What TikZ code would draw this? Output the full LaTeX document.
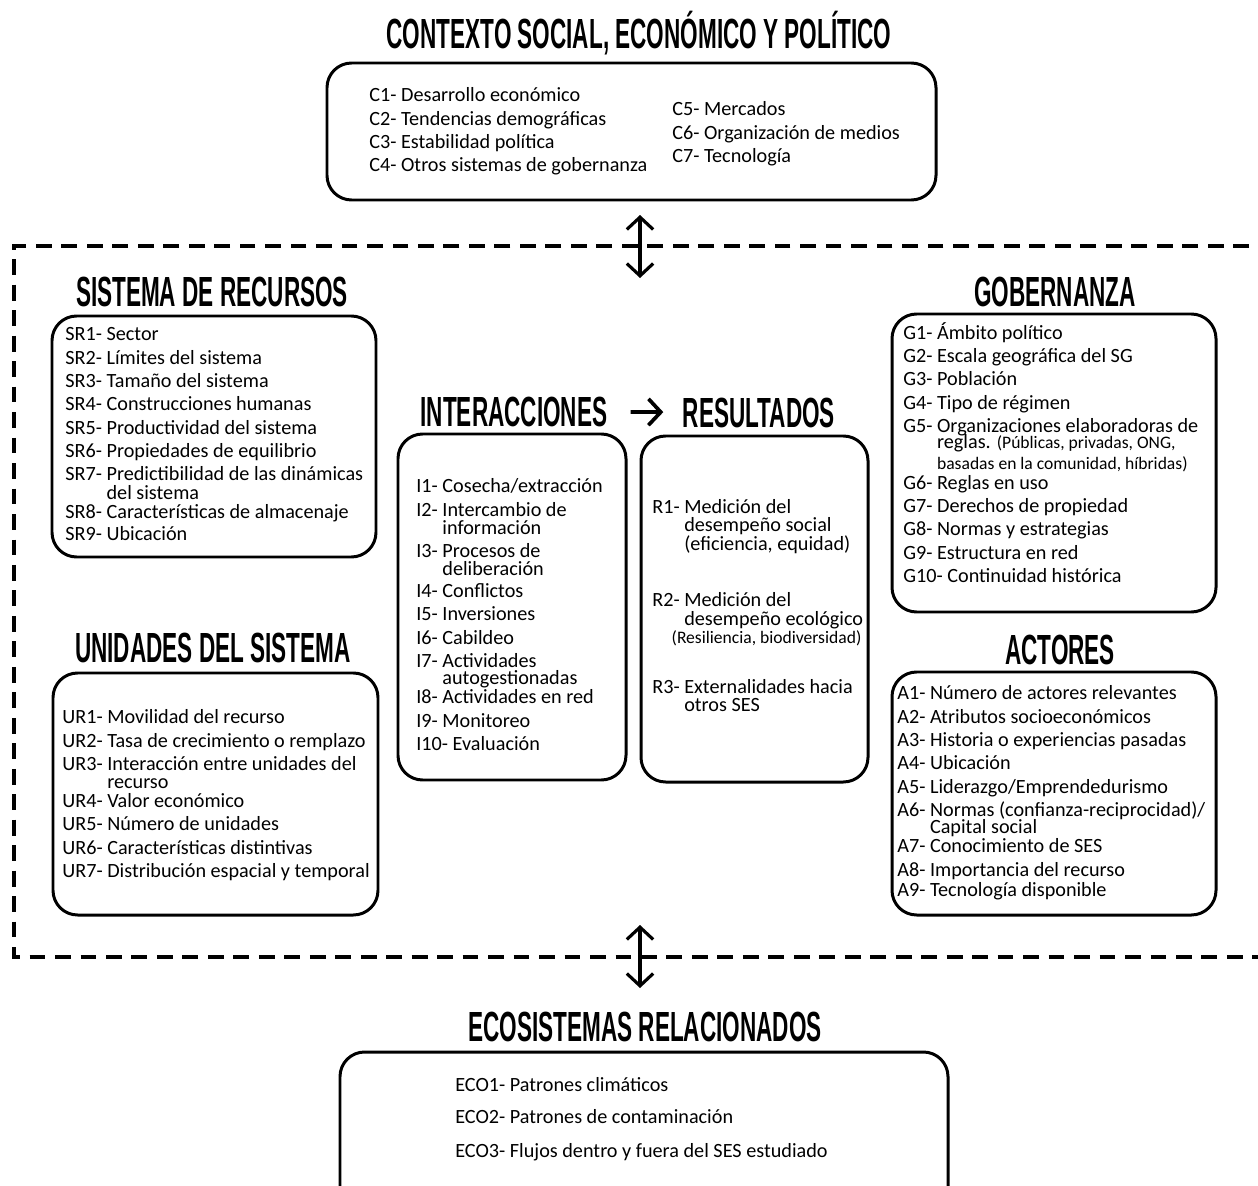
\documentclass[tikz,border=0pt]{standalone}
\usepackage{fontspec}
\setmainfont{Carlito}
\newfontfamily\titlefont[FakeStretch=0.535]{Liberation Sans}
\usetikzlibrary{arrows.meta,fit}
\def\contline#1{\phantom{#1}}
\tikzset{
	panel/.style={draw, line width=1.7pt, rounded corners=14pt, inner sep=0pt},
	heading/.style={font=\titlefont\bfseries\fontsize{24}{26}\selectfont, inner sep=0pt, anchor=base},
	items/.style={font=\fontsize{11.5}{13.3}\selectfont, align=left, anchor=north west, inner sep=0pt},
	frame/.style={line width=2.2pt, dash pattern=on 9pt off 5.5pt},
	link/.style={line width=1.8pt, {Straight Barb[length=7pt,width=15pt]}-{Straight Barb[length=7pt,width=15pt]}},
	flow/.style={line width=2.1pt, -{Straight Barb[length=7pt,width=15pt]}},
}
\begin{document}
\begin{tikzpicture}[x=0.02cm, y=-0.02cm]
			%%%%% START %%%%%
			\path[use as bounding box, clip] (0,0) rectangle (1258,1186);
			
			% outer context
			\node[heading] (ctxtitle) at (639,49) {CONTEXTO SOCIAL, ECONÓMICO Y POLÍTICO};
			\node[panel, fit={(327,63) (936,200)}] (ctxbox) {};
			\node[items] (ctxleft) at (369,85) {\strut C1- Desarrollo económico\\
				C2- Tendencias demográficas\\
				C3- Estabilidad política\\
				C4- Otros sistemas de gobernanza};
			\node[items] (ctxright) at (672,99) {\strut C5- Mercados\\
				C6- Organización de medios\\
				C7- Tecnología};
			
			% dashed frame of the SES
			\draw[frame] (1300,246) -- (14,246) -- (14,957) -- (1300,957);
			
			\coordinate (uplinkA) at (640,215);
			\coordinate (uplinkB) at (640,278);
			\draw[link] (uplinkA) -- (uplinkB);
			
			% resource system
			\node[heading] (srtitle) at (212,306) {SISTEMA DE RECURSOS};
			\node[panel, fit={(52,316) (376,557)}] (srbox) {};
			\node[items] (sritems) at (65,324) {\strut SR1- Sector\\
				SR2- Límites del sistema\\
				SR3- Tamaño del sistema\\
				SR4- Construcciones humanas\\
				SR5- Productividad del sistema\\
				SR6- Propiedades de equilibrio\\
				SR7- Predictibilidad de las dinámicas\\[-2.5pt]
				\contline{SR7- }del sistema\\[-2.5pt]
				SR8- Características de almacenaje\\[-0.8pt]
				SR9- Ubicación};
			
			% resource units
			\node[heading] (urtitle) at (213,662) {UNIDADES DEL SISTEMA};
			\node[panel, fit={(53,673) (378,915)}] (urbox) {};
			\node[items] (uritems) at (62,707) {\strut UR1- Movilidad del recurso\\
				UR2- Tasa de crecimiento o remplazo\\
				UR3- Interacción entre unidades del\\[-3pt]
				\contline{UR3- }recurso\\[-2.5pt]
				UR4- Valor económico\\
				UR5- Número de unidades\\
				UR6- Características distintivas\\
				UR7- Distribución espacial y temporal};
			
			% interactions and outcomes
			\node[heading] (intitle) at (514,426) {INTERACCIONES};
			\node[heading] (retitle) at (759,427) {RESULTADOS};
			\draw[flow, shorten <=13pt, shorten >=11pt] (intitle) -- (retitle);
			
			\node[panel, fit={(398,434) (626,780)}] (inbox) {};
			\node[items] (initems) at (416,476) {\strut I1- Cosecha/extracción\\
				I2- Intercambio de\\[-3pt]
				\contline{I2- }información\\
				I3- Procesos de\\[-3pt]
				\contline{I3- }deliberación\\[-0.8pt]
				I4- Conflictos\\
				I5- Inversiones\\
				I6- Cabildeo\\
				I7- Actividades\\[-4pt]
				\contline{I7- }autogestionadas\\[-2pt]
				I8- Actividades en red\\
				I9- Monitoreo\\
				I10- Evaluación};
			
			\node[panel, fit={(641,436) (868,782)}] (rebox) {};
			\node[items] (reitems) at (652,497) {\strut R1- Medición del\\[-3.2pt]
				\contline{R1- }desempeño social\\[-2.5pt]
				\contline{R1- }(eficiencia, equidad)\\[18.5pt]
				R2- Medición del\\[-2.5pt]
				\contline{R2- }desempeño ecológico\\[-3pt]
				\hspace*{11pt}{\fontsize{10}{11}\selectfont(Resiliencia, biodiversidad)}\\[15pt]
				R3- Externalidades hacia\\[-3pt]
				\contline{R3- }otros SES};
			
			% governance
			\node[heading] (gotitle) at (1055,306) {GOBERNANZA};
			\node[panel, fit={(892,314) (1216,612)}] (gobox) {};
			\node[items] (goitems) at (903,322) {\strut G1- Ámbito político\\
				G2- Escala geográfica del SG\\
				G3- Población\\
				G4- Tipo de régimen\\
				G5- Organizaciones elaboradoras de\\[-4.2pt]
				\contline{G5- }reglas. {\fontsize{10}{11}\selectfont(Públicas, privadas, ONG,}\\[-1.6pt]
				\contline{G5- }{\fontsize{10}{11}\selectfont basadas en la comunidad, híbridas)}\\[-2pt]
				G6- Reglas en uso\\
				G7- Derechos de propiedad\\
				G8- Normas y estrategias\\
				G9- Estructura en red\\
				G10- Continuidad histórica};
			
			% actors
			\node[heading] (actitle) at (1060,664) {ACTORES};
			\node[panel, fit={(892,672) (1216,915)}] (acbox) {};
			\node[items] (acitems) at (897,683) {\strut A1- Número de actores relevantes\\
				A2- Atributos socioeconómicos\\
				A3- Historia o experiencias pasadas\\
				A4- Ubicación\\
				A5- Liderazgo/Emprendedurismo\\
				A6- Normas (confianza-reciprocidad)/\\[-3.5pt]
				\contline{A6- }Capital social\\[-2.4pt]
				A7- Conocimiento de SES\\
				A8- Importancia del recurso\\[-2pt]
				A9- Tecnología disponible};
			
			\coordinate (downlinkA) at (640,925);
			\coordinate (downlinkB) at (640,988);
			\draw[link] (downlinkA) -- (downlinkB);
			
			% related ecosystems
			\node[heading] (ecotitle) at (645,1041) {ECOSISTEMAS RELACIONADOS};
			\node[panel, fit={(340,1052) (948,1215)}] (ecobox) {};
			\node[items] (ecoitems) at (455,1075) {\strut ECO1- Patrones climáticos\\[4.8pt]
				ECO2- Patrones de contaminación\\[6pt]
				ECO3- Flujos dentro y fuera del SES estudiado};
			
			%%%%% END %%%%%
\end{tikzpicture}
\end{document}
